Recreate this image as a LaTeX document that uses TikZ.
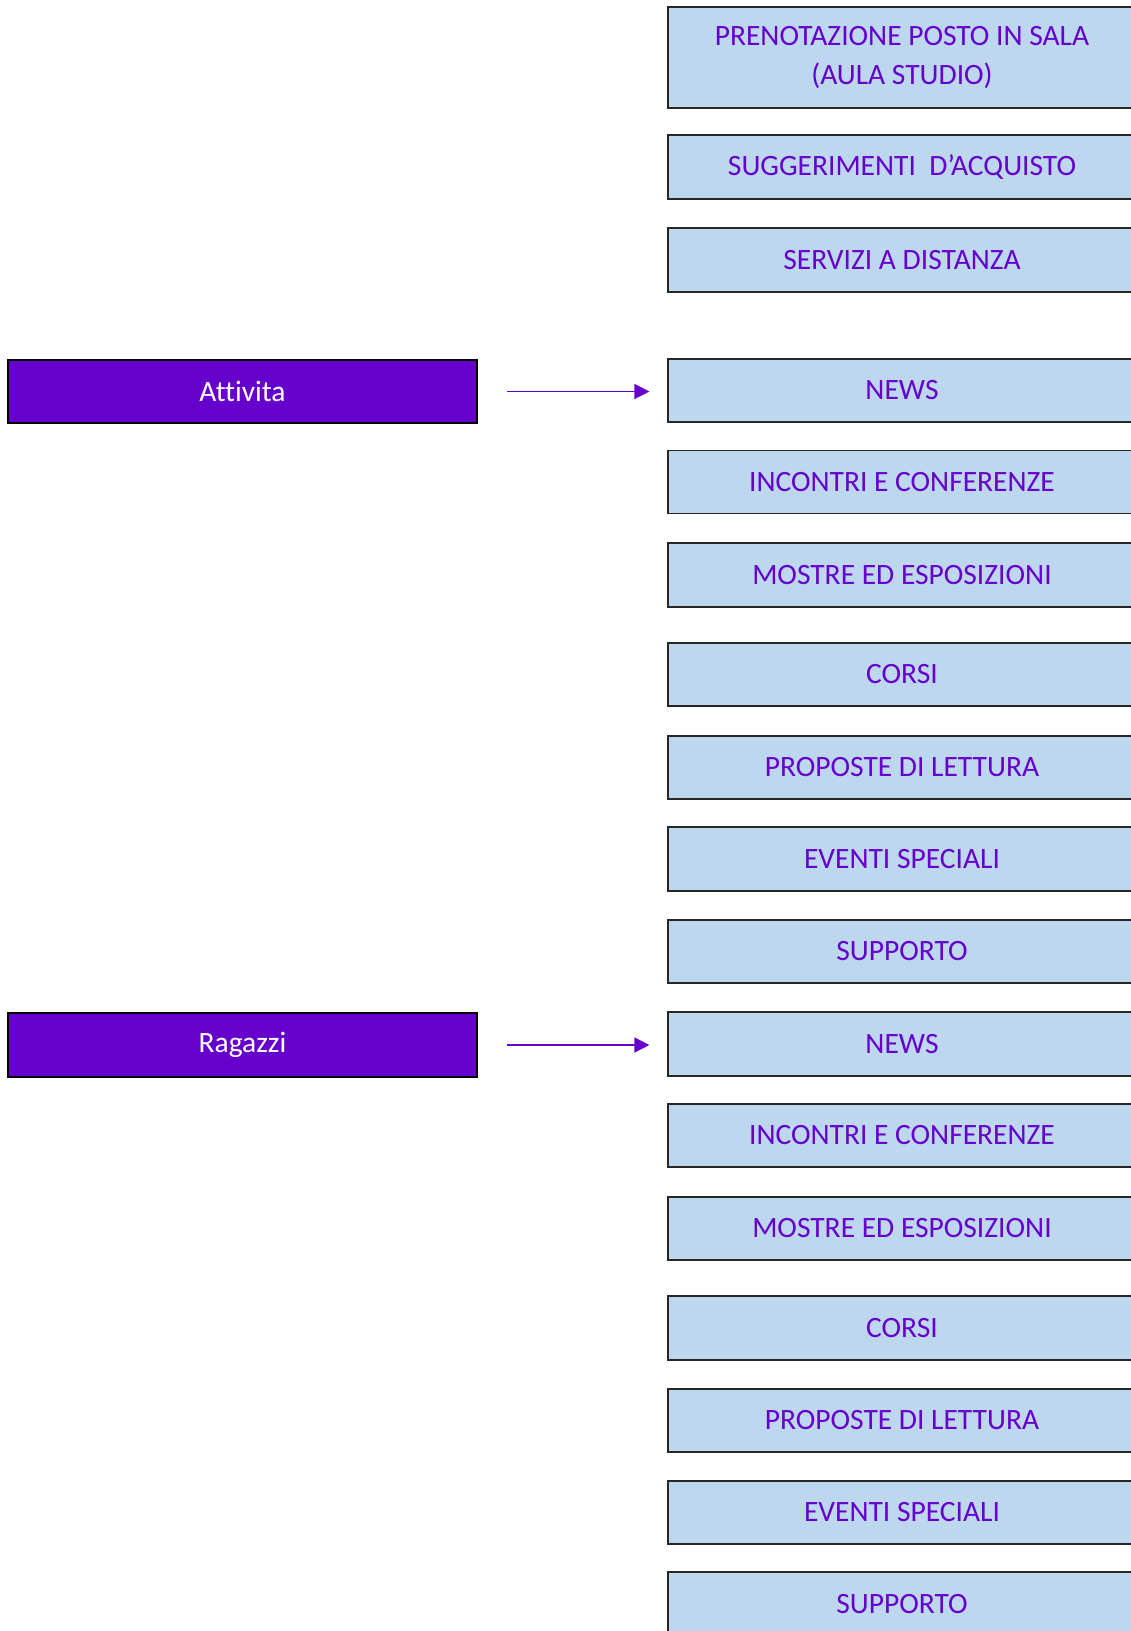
\documentclass[tikz,border=0pt]{standalone}
\usepackage{fontspec}
\setmainfont[Ligatures=CommonOff]{Carlito}
\usetikzlibrary{arrows.meta}
\definecolor{purp}{HTML}{6600CC}
\definecolor{lblue}{HTML}{BDD7EE}
\begin{document}
\begin{tikzpicture}[x=1pt,y=-1pt,
  rbox/.style={draw=black!85,line width=1.2pt,fill=lblue,text=purp,inner sep=0pt,
    minimum width=468pt,minimum height=63pt,align=center,
    font=\fontsize{29.5}{39.5}\selectfont},
  lbox/.style={draw=black,line width=1.2pt,fill=purp,text=white,inner sep=0pt,
    minimum width=469pt,minimum height=63pt,font=\fontsize{29.5}{35}\selectfont},
  arr/.style={draw=purp,line width=1.4pt,-{Triangle[length=15pt,width=15pt]},
    shorten <=29pt,shorten >=18pt}]
\useasboundingbox (0,0) rectangle (1131,1631);
\clip (0,0) rectangle (1131,1631);
\fill[white] (0,0) rectangle (1131,1631);
\node[rbox,minimum height=101pt] (b1) at (902,57.5) {PRENOTAZIONE POSTO IN SALA\\(AULA STUDIO)};
\node[rbox,minimum height=64pt] (b2) at (902,167) {SUGGERIMENTI\ \ D’ACQUISTO};
\node[rbox,minimum height=64pt] (b3) at (902,260) {SERVIZI A DISTANZA};
\node[rbox] (b4) at (902,390.5) {NEWS};
\node[rbox] (b5) at (902,482) {INCONTRI E CONFERENZE};
\node[rbox,minimum height=64pt] (b6) at (902,575) {MOSTRE ED ESPOSIZIONI};
\node[rbox] (b7) at (902,674.5) {CORSI};
\node[rbox] (b8) at (902,767.5) {PROPOSTE DI LETTURA};
\node[rbox,minimum height=64pt] (b9) at (902,859) {EVENTI SPECIALI};
\node[rbox] (b10) at (902,951.5) {SUPPORTO};
\node[rbox,minimum height=64pt] (b11) at (902,1044) {NEWS};
\node[rbox] (b12) at (902,1135.5) {INCONTRI E CONFERENZE};
\node[rbox] (b13) at (902,1228.5) {MOSTRE ED ESPOSIZIONI};
\node[rbox,minimum height=64pt] (b14) at (902,1328) {CORSI};
\node[rbox] (b15) at (902,1420.5) {PROPOSTE DI LETTURA};
\node[rbox] (b16) at (902,1512.5) {EVENTI SPECIALI};
\node[rbox,minimum height=64pt] (b17) at (902,1604) {SUPPORTO};
\node[lbox] (att) at (242.5,391.5) {Attivita};
\node[lbox,minimum height=64pt] (rag) at (242.5,1045) {Ragazzi};
\draw[arr] (att.east) -- (att.east -| b4.west);
\draw[arr] (rag.east) -- (rag.east -| b11.west);
\end{tikzpicture}
\end{document}
